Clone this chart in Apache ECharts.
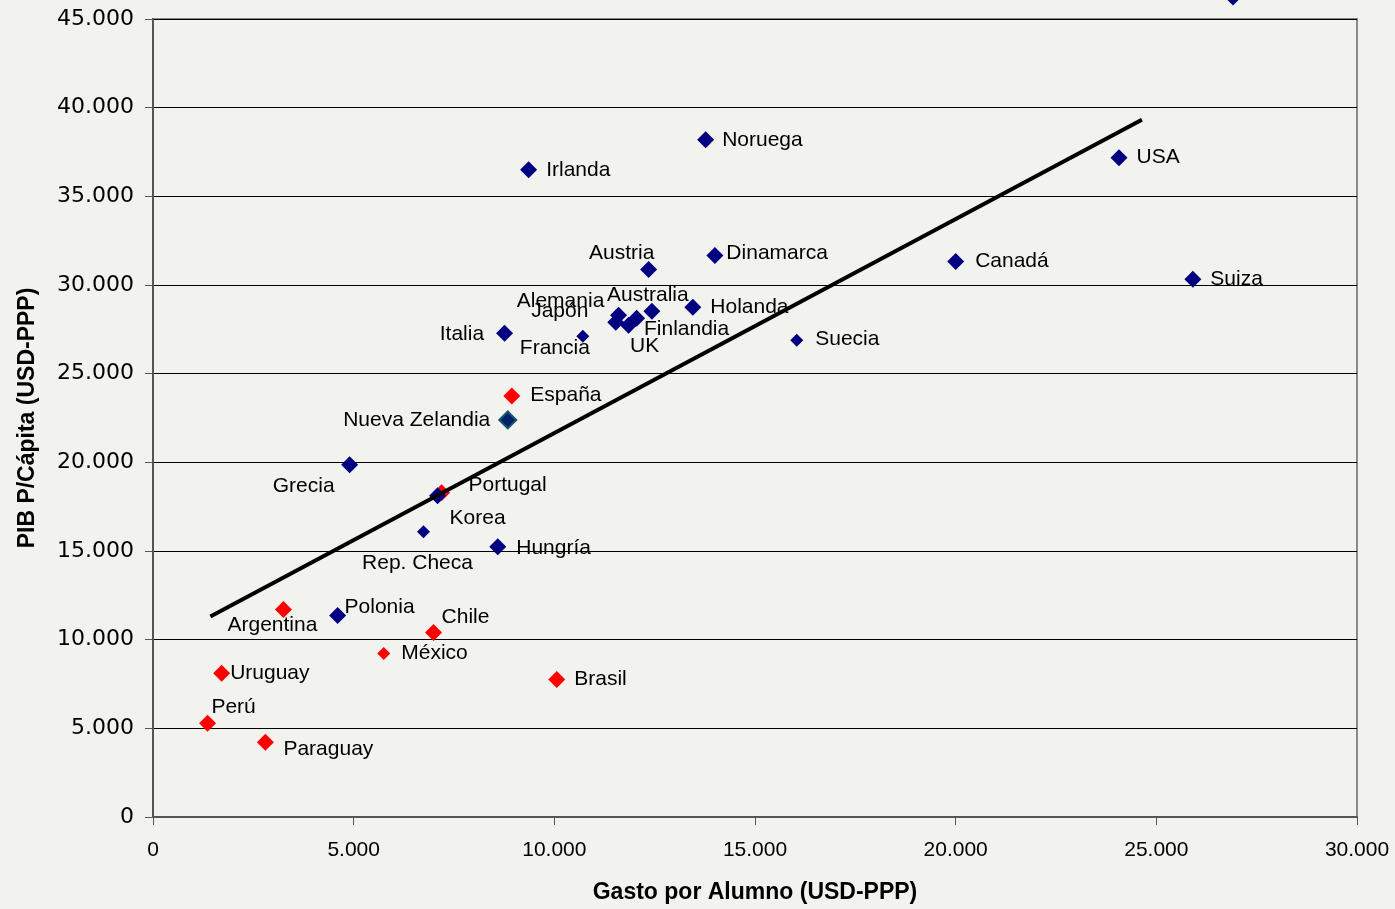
<!DOCTYPE html>
<html>
<head>
<meta charset="utf-8">
<script src="https://cdn.jsdelivr.net/npm/echarts@6/dist/echarts.min.js"></script>
<style>
html,body{margin:0;padding:0;background:#f2f2ee;}
#chart{width:1395px;height:909px;}
</style>
</head>
<body>
<div id="chart"></div>
<script>
// ---- Data ----
const blueNames = ['Luxemburgo','Noruega','Irlanda','USA','Austria','Dinamarca','Canadá','Suiza','Alemania','Japón','Australia','Holanda','Finlandia','UK','Italia','Francia','Suecia','Nueva Zelandia','Grecia','Korea','Rep. Checa','Hungría','Polonia'];
const blueX = [26910,13770,9360,24070,12350,14000,20000,25910,11600,11530,12430,13450,12050,11850,8760,10710,16040,8840,4900,7090,6740,8590,4600];
const blueY = [46240,38190,36500,37180,30880,31670,31330,30320,28290,27900,28520,28740,28120,27730,27280,27110,26890,22390,19860,18110,16090,15240,11360];

const redNames = ['España','Portugal','Argentina','Chile','México','Uruguay','Brasil','Perú','Paraguay'];
const redX = [8940,7190,3250,6990,5750,1710,10060,1360,2800];
const redY = [23740,18280,11700,10410,9220,8100,7760,5290,4220];

const trendX = [1430,24640];
const trendY = [11310,39320];

// ---- Styles (kept separate from data) ----
const smallMarkers = ['Francia','Suecia','Rep. Checa','México'];
const labelPlace = {
  'Luxemburgo': {p:'right', d:30, o:[0,-10]},
  'Noruega': {p:'right', d:8, o:[0,0]},
  'Irlanda': {p:'right', d:9, o:[0,0]},
  'USA': {p:'right', d:9, o:[0,0]},
  'Austria': {o:[-27,-16]},
  'Dinamarca': {p:'right', d:3, o:[0,-2]},
  'Canadá': {p:'right', d:11, o:[0,0]},
  'Suiza': {p:'right', d:9, o:[0,0]},
  'Alemania': {o:[-58,-14]},
  'Japón': {o:[-56,-11]},
  'Australia': {o:[-4,-16]},
  'Holanda': {p:'right', d:9, o:[0,0]},
  'Finlandia': {o:[50,11]},
  'UK': {o:[16,21]},
  'Italia': {p:'left', d:12, o:[0,1]},
  'Francia': {o:[-28,12]},
  'Suecia': {p:'right', d:12, o:[0,-1]},
  'Nueva Zelandia': {p:'left', d:8, o:[0,0]},
  'Grecia': {o:[-46,21]},
  'Korea': {o:[40,22]},
  'Rep. Checa': {o:[-6,32]},
  'Hungría': {p:'right', d:10, o:[0,1]},
  'Polonia': {o:[42,-8]},
  'España': {p:'right', d:10, o:[0,-1]},
  'Portugal': {o:[66,-8]},
  'Argentina': {o:[-11,16]},
  'Chile': {o:[32,-15]},
  'México': {p:'right', d:11, o:[0,0]},
  'Uruguay': {p:'right', d:0, o:[0,0]},
  'Brasil': {p:'right', d:9, o:[0,0]},
  'Perú': {o:[26,-16]},
  'Paraguay': {o:[63,7]}
};

const FONT = "'Liberation Sans', Arial, sans-serif";

function buildPoints(names, xs, ys) {
  return names.map((n, i) => {
    const lp = labelPlace[n] || {p:'right', d:8, o:[0,0]};
    const label = {
      show: true,
      formatter: n,
      color: '#000',
      fontSize: 21,
      fontFamily: FONT,
      offset: lp.o
    };
    if (lp.p) { label.position = lp.p; label.distance = lp.d; }
    else { label.position = 'inside'; label.align = 'center'; label.verticalAlign = 'middle'; }
    const item = {
      name: n,
      value: [xs[i], ys[i]],
      symbolSize: smallMarkers.includes(n) ? 13 : 17,
      label: label
    };
    if (n === 'Nueva Zelandia') {
      item.itemStyle = {color: '#00206a', borderColor: '#1a5570', borderWidth: 2, opacity: 1};
    }
    return item;
  });
}

const chart = echarts.init(document.getElementById('chart'));
chart.setOption({
  backgroundColor: '#f2f2ee',
  animation: false,
  grid: {left: 153, right: 38, top: 19, bottom: 90, show: true, borderColor: '#8a8a8a', borderWidth: 2, backgroundColor: 'transparent'},
  xAxis: {
    type: 'value', min: 0, max: 30000, interval: 5000,
    name: 'Gasto por Alumno (USD-PPP)', nameLocation: 'middle', nameGap: 64,
    nameTextStyle: {fontFamily: FONT, fontWeight: 'bold', fontSize: 23, color: '#000'},
    axisLine: {show: true, lineStyle: {color: '#555', width: 2}},
    axisTick: {show: true, inside: false, length: 8, lineStyle: {color: '#555'}},
    axisLabel: {margin: 23, fontFamily: FONT, fontSize: 21, color: '#000',
      formatter: v => v === 0 ? '0' : v.toLocaleString('de-DE')},
    splitLine: {show: false}
  },
  yAxis: {
    type: 'value', min: 0, max: 45000, interval: 5000,
    name: 'PIB P/Cápita (USD-PPP)', nameLocation: 'middle', nameGap: 114,
    nameTextStyle: {fontFamily: FONT, fontWeight: 'bold', fontSize: 23, color: '#000'},
    axisLine: {show: true, lineStyle: {color: '#555', width: 2}},
    axisTick: {show: true, inside: false, length: 8, lineStyle: {color: '#555'}},
    axisLabel: {margin: 19, fontFamily: "'DejaVu Sans', sans-serif", fontSize: 22, color: '#000',
      formatter: v => v === 0 ? '0' : v.toLocaleString('de-DE')},
    splitLine: {show: true, lineStyle: {color: '#000', width: 1}}
  },
  series: [
    {
      type: 'scatter', name: 'red', symbol: 'diamond', clip: false, z: 2,
      itemStyle: {color: '#ff0000', opacity: 1},
      data: buildPoints(redNames, redX, redY)
    },
    {
      type: 'scatter', name: 'blue', symbol: 'diamond', clip: false, z: 3,
      itemStyle: {color: '#000080', opacity: 1},
      data: buildPoints(blueNames, blueX, blueY)
    },
    {
      type: 'line', name: 'trend', showSymbol: false, symbol: 'none', z: 4,
      lineStyle: {color: '#000', width: 4}, silent: true,
      data: trendX.map((x, i) => [x, trendY[i]])
    }
  ]
});
</script>
</body>
</html>
